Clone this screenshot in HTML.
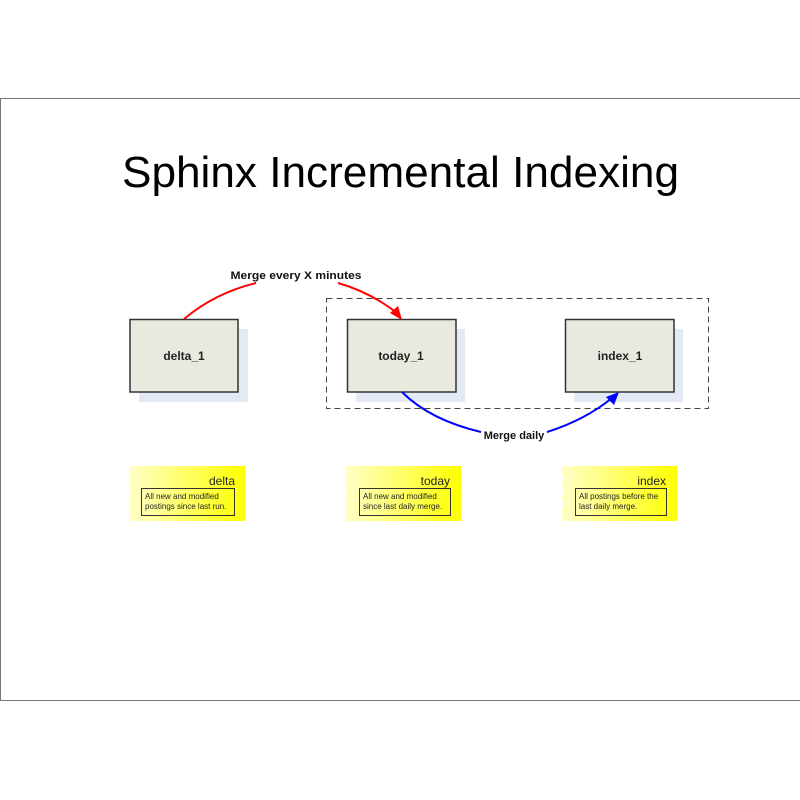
<!DOCTYPE html>
<html><head><meta charset="utf-8"><style>
html,body{margin:0;padding:0;background:#fff;}
svg{display:block;}
text{font-family:"Liberation Sans",Arial,sans-serif;}
</style></head><body>
<svg width="800" height="800" viewBox="0 0 800 800" xmlns="http://www.w3.org/2000/svg">
<defs>
<linearGradient id="yg" x1="0" y1="0" x2="1" y2="0">
<stop offset="0" stop-color="#ffffc8"/>
<stop offset="1" stop-color="#ffff00"/>
</linearGradient>
</defs>
<rect x="0.5" y="98.5" width="800" height="602" fill="#fff" stroke="#777" stroke-width="1"/>
<text x="122" y="187" font-size="44" textLength="557" lengthAdjust="spacingAndGlyphs">Sphinx Incremental Indexing</text>

<rect x="326.5" y="298.5" width="382" height="110" fill="none" stroke="#444" stroke-dasharray="6,4"/>

<rect x="139" y="329" width="109" height="73" fill="#e3eaf5"/>
<rect x="356" y="329" width="109" height="73" fill="#e3eaf5"/>
<rect x="574" y="329" width="109" height="73" fill="#e3eaf5"/>
<g fill="#e9e9df" stroke="#333" stroke-width="1.5">
<rect x="130" y="319.5" width="108" height="72.5"/>
<rect x="347.5" y="319.5" width="108.5" height="72.5"/>
<rect x="565.5" y="319.5" width="108.5" height="72.5"/>
</g>
<g font-size="12" font-weight="bold" fill="#222" text-anchor="middle">
<text x="184" y="360">delta_1</text>
<text x="401" y="360">today_1</text>
<text x="620" y="360">index_1</text>
</g>

<path d="M184,319 Q215,293 256,283" fill="none" stroke="#f00" stroke-width="2"/>
<path d="M338,283 Q370,292 397,313" fill="none" stroke="#f00" stroke-width="2"/>
<polygon points="402,320 390,313 398,306" fill="#f00"/>
<text x="296" y="279" font-size="11" font-weight="bold" fill="#111" text-anchor="middle" textLength="131" lengthAdjust="spacingAndGlyphs">Merge every X minutes</text>

<path d="M402,392 Q430,420 481,432" fill="none" stroke="#00f" stroke-width="2"/>
<path d="M547,432 Q585,420 612,398" fill="none" stroke="#00f" stroke-width="2"/>
<polygon points="619,392 614,405 606,397" fill="#00f"/>
<text x="514" y="439" font-size="11" font-weight="bold" fill="#111" text-anchor="middle">Merge daily</text>

<g>
<rect x="129" y="466" width="116" height="55" fill="url(#yg)"/>
<rect x="125" y="475" width="5" height="7" fill="#fff"/><rect x="125" y="488" width="5" height="7" fill="#fff"/><rect x="125" y="501" width="5" height="7" fill="#fff"/>
<text x="235" y="485" font-size="12" text-anchor="end" fill="#222">delta</text>
<rect x="141.5" y="488.5" width="93" height="27" fill="none" stroke="#333"/>
<text x="145" y="499" font-size="8" fill="#222">All new and modified</text>
<text x="145" y="509" font-size="8" fill="#222">postings since last run.</text>
</g>
<g>
<rect x="345" y="466" width="116" height="55" fill="url(#yg)"/>
<rect x="341" y="475" width="5" height="7" fill="#fff"/><rect x="341" y="488" width="5" height="7" fill="#fff"/><rect x="341" y="501" width="5" height="7" fill="#fff"/>
<text x="450" y="485" font-size="12" text-anchor="end" fill="#222">today</text>
<rect x="359.5" y="488.5" width="91" height="27" fill="none" stroke="#333"/>
<text x="363" y="499" font-size="8" fill="#222">All new and modified</text>
<text x="363" y="509" font-size="8" fill="#222">since last daily merge.</text>
</g>
<g>
<rect x="562" y="466" width="115" height="55" fill="url(#yg)"/>
<rect x="558" y="475" width="5" height="7" fill="#fff"/><rect x="558" y="488" width="5" height="7" fill="#fff"/><rect x="558" y="501" width="5" height="7" fill="#fff"/>
<text x="666" y="485" font-size="12" text-anchor="end" fill="#222">index</text>
<rect x="575.5" y="488.5" width="91" height="27" fill="none" stroke="#333"/>
<text x="579" y="499" font-size="8" fill="#222">All postings before the</text>
<text x="579" y="509" font-size="8" fill="#222">last daily merge.</text>
</g>
</svg>
</body></html>
